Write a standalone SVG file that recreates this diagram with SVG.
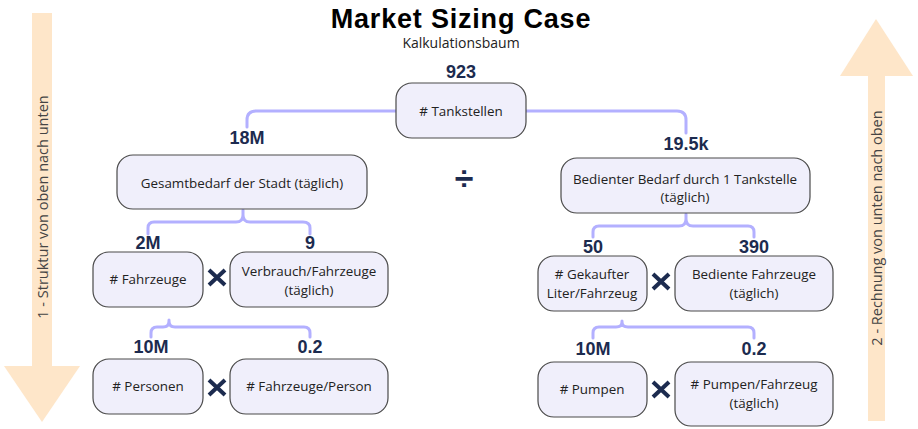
<svg xmlns="http://www.w3.org/2000/svg" width="918" height="429" viewBox="0 0 918 429">
<style>
.node{fill:#f0effb;stroke:#4a4a4a;stroke-width:1.2}
.nt{font-family:"Open Sans","Liberation Sans",sans-serif;font-size:13.4px;fill:#222;text-anchor:middle}
.val{font-family:"Liberation Sans",Arial,sans-serif;font-weight:bold;font-size:18px;fill:#1c2b4f;text-anchor:middle}
.con{fill:none;stroke:#b3b0ff;stroke-width:3;stroke-linecap:round;stroke-linejoin:round}
.arr{fill:#fee6c9}
.side{font-family:"Open Sans","Liberation Sans",sans-serif;font-size:14.5px;fill:#444;text-anchor:middle}
.op{stroke:#1c2b4f;stroke-width:4;fill:none}
</style>
<rect width="918" height="429" fill="#ffffff"/>

<g id="arrow-down">
<rect class="arr" x="32" y="13" width="20" height="354"/>
<polygon class="arr" points="4,366 80,366 42,422"/>
<text class="side" transform="translate(42,207) rotate(-90)" dominant-baseline="central">1 - Struktur von oben nach unten</text>
</g>
<g id="arrow-up">
<rect class="arr" x="868" y="75" width="17" height="346"/>
<polygon class="arr" points="840,76 913,76 876,19"/>
<text class="side" transform="translate(876,228) rotate(-90)" dominant-baseline="central">2 - Rechnung von unten nach oben</text>
</g>

<text x="461" y="28" font-family="Liberation Sans,Arial,sans-serif" font-weight="bold" font-size="27" letter-spacing="0.8" fill="#000" text-anchor="middle">Market Sizing Case</text>
<text x="461" y="48" font-family="Open Sans,Liberation Sans,sans-serif" font-size="14" fill="#222" text-anchor="middle">Kalkulationsbaum</text>

<g id="connectors">
<path class="con" d="M396,111 H256 Q247,111 247,120 V127"/>
<path class="con" d="M526,111 H677 Q686,111 686,120 V133"/>
<path class="con" d="M243,210 V215 Q243,222 236,222 H154 Q148,222 148,228 V234 M243,215 Q243,222 250,222 H303 Q310,222 310,228 V234"/>
<path class="con" d="M169,320 V321 Q169,327 163,327 H157 Q151,327 151,333 V337 M169,321 Q169,327 175,327 H304 Q310,327 310,333 V337"/>
<path class="con" d="M686,214 V219 Q686,226 679,226 H599 Q593,226 593,232 V237 M686,219 Q686,226 693,226 H748 Q754,226 754,232 V237"/>
<path class="con" d="M622,321 V322 Q622,327 616,327 H599 Q593,327 593,333 V338 M622,322 Q622,327 628,327 H748 Q754,327 754,333 V338"/>
</g>

<g id="n-tankstellen">
<rect class="node" x="396" y="83" width="130" height="55" rx="16"/>
<text class="nt" x="461" y="116"># Tankstellen</text>
<text class="val" x="461" y="78">923</text>
</g>

<g id="n-gesamtbedarf">
<rect class="node" x="117" y="155" width="250" height="54" rx="16"/>
<text class="nt" x="242" y="188">Gesamtbedarf der Stadt (täglich)</text>
<text class="val" x="247" y="144">18M</text>
</g>

<g id="n-bedient">
<rect class="node" x="561" y="158" width="249" height="55" rx="16"/>
<text class="nt" x="685" y="184">Bedienter Bedarf durch 1 Tankstelle</text>
<text class="nt" x="685" y="202">(täglich)</text>
<text class="val" x="686" y="150">19.5k</text>
</g>

<text x="464" y="190" font-family="Liberation Sans,Arial,sans-serif" font-weight="bold" font-size="34" fill="#1c2b4f" text-anchor="middle">÷</text>

<g id="n-fahrzeuge">
<rect class="node" x="93" y="252" width="110" height="55" rx="16"/>
<text class="nt" x="148" y="284"># Fahrzeuge</text>
<text class="val" x="148" y="249">2M</text>
</g>
<g id="n-verbrauch">
<rect class="node" x="230" y="252" width="158" height="55" rx="16"/>
<text class="nt" x="309" y="276">Verbrauch/Fahrzeuge</text>
<text class="nt" x="309" y="295">(täglich)</text>
<text class="val" x="310" y="249">9</text>
</g>
<path class="op" d="M209,270 L225,285 M225,270 L209,285"/>

<g id="n-personen">
<rect class="node" x="93" y="359" width="110" height="55" rx="16"/>
<text class="nt" x="148" y="391"># Personen</text>
<text class="val" x="151" y="353">10M</text>
</g>
<g id="n-fzperson">
<rect class="node" x="230" y="359" width="158" height="55" rx="16"/>
<text class="nt" x="309" y="391"># Fahrzeuge/Person</text>
<text class="val" x="310" y="353">0.2</text>
</g>
<path class="op" d="M209,380 L225,395 M225,380 L209,395"/>

<g id="n-gekaufter">
<rect class="node" x="538" y="256" width="109" height="55" rx="16"/>
<text class="nt" x="592" y="279"># Gekaufter</text>
<text class="nt" x="592" y="298">Liter/Fahrzeug</text>
<text class="val" x="593" y="253">50</text>
</g>
<g id="n-bediente-fz">
<rect class="node" x="675" y="256" width="158" height="55" rx="16"/>
<text class="nt" x="754" y="279">Bediente Fahrzeuge</text>
<text class="nt" x="754" y="298">(täglich)</text>
<text class="val" x="754" y="253">390</text>
</g>
<path class="op" d="M653,274 L669,289 M669,274 L653,289"/>

<g id="n-pumpen">
<rect class="node" x="538" y="362" width="109" height="55" rx="16"/>
<text class="nt" x="592" y="394"># Pumpen</text>
<text class="val" x="593" y="355">10M</text>
</g>
<g id="n-pumpen-fz">
<rect class="node" x="675" y="362" width="158" height="64" rx="16"/>
<text class="nt" x="754" y="389"># Pumpen/Fahrzeug</text>
<text class="nt" x="754" y="408">(täglich)</text>
<text class="val" x="754" y="355">0.2</text>
</g>
<path class="op" d="M653,382 L669,397 M669,382 L653,397"/>
</svg>
